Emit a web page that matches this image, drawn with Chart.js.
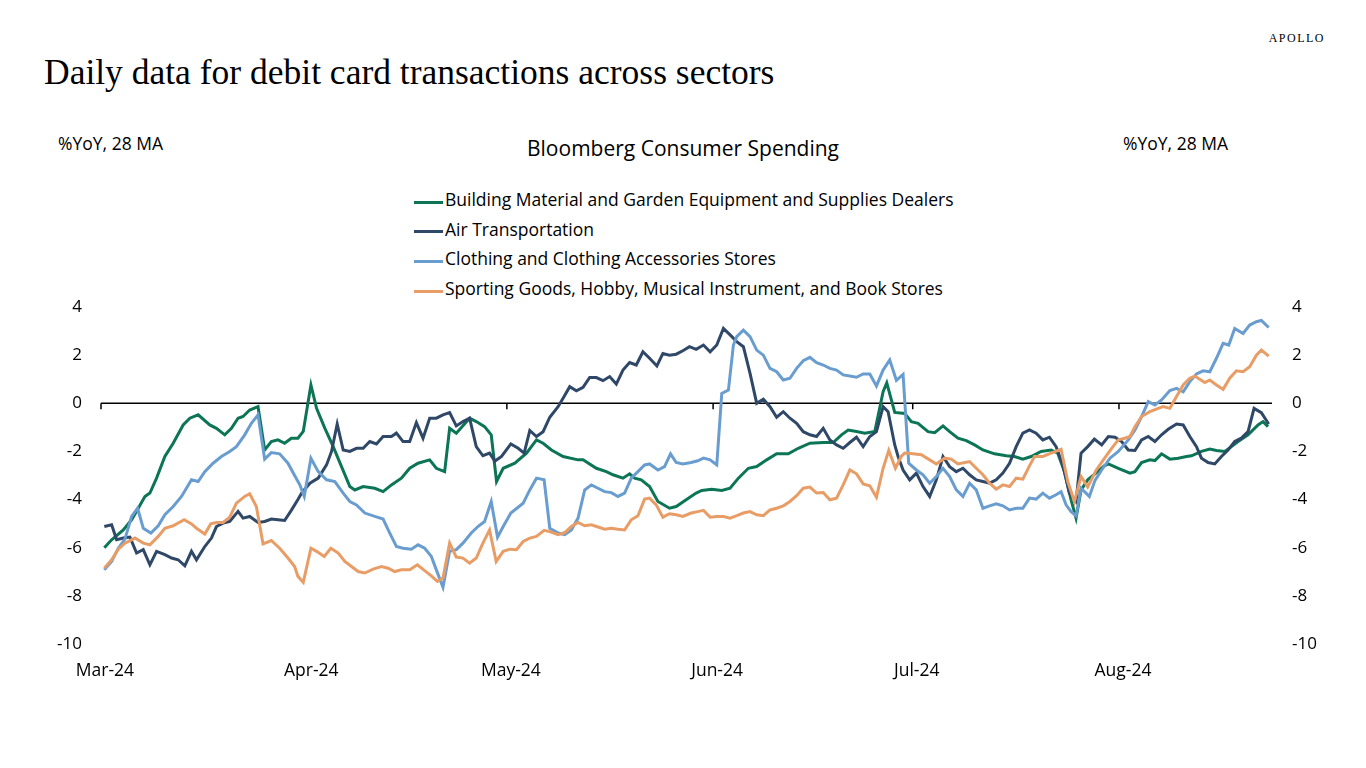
<!DOCTYPE html>
<html>
<head>
<meta charset="utf-8">
<script src="https://cdn.jsdelivr.net/npm/chart.js@4.4.0/dist/chart.umd.min.js"></script>
<style>
  body { margin: 0; width: 1366px; height: 768px; background: #fff; position: relative; overflow: hidden; font-family: "Open Sans", sans-serif; }
  #chart { position: absolute; left: 0; top: 0; }
  .txt { position: absolute; white-space: nowrap; color: #000; }
  .sw { position: absolute; width: 29px; height: 3px; }
</style>
</head>
<body>
<div class="txt" style="right:41px;top:30px;font:12px 'Liberation Serif';line-height:16px;letter-spacing:1.5px">APOLLO</div>
<div class="txt" style="left:44px;top:51px;font:35.5px 'Liberation Serif';line-height:42px">Daily data for debit card transactions across sectors</div>
<div class="txt" style="left:58px;top:131px;font-size:17.5px;line-height:24px">%YoY, 28 MA</div>
<div class="txt" style="left:1123px;top:131px;font-size:17.5px;line-height:24px">%YoY, 28 MA</div>
<div class="txt" style="left:527px;top:134px;font-size:21px;line-height:28px">Bloomberg Consumer Spending</div>
<div id="legend"></div>
<canvas id="chart" width="1366" height="768"></canvas>
<script>
// x = days after 1 Mar 2024, y = %YoY (28 day MA)
const monthLabels = ['Mar-24', 'Apr-24', 'May-24', 'Jun-24', 'Jul-24', 'Aug-24'];
const monthStarts = [0, 31, 61, 92, 122, 153];
const seriesNames = [
  'Building Material and Garden Equipment and Supplies Dealers',
  'Air Transportation',
  'Clothing and Clothing Accessories Stores',
  'Sporting Goods, Hobby, Musical Instrument, and Book Stores'
];
const seriesColors = ['#0b7556', '#2f4868', '#6a9dcf', '#e89d66'];

const building = [[0.5,-6.0],[1.6,-5.67],[3.35,-5.26],[4.6,-4.84],[5.6,-4.36],[6.6,-3.87],[7.35,-3.73],[8.35,-3.11],[9.6,-2.21],[10.85,-1.66],[12.35,-0.9],[13.35,-0.62],[14.6,-0.48],[16.35,-0.9],[17.35,-1.04],[18.6,-1.31],[19.6,-1.04],[20.6,-0.62],[21.35,-0.55],[22.35,-0.28],[23.6,-0.14],[24.6,-1.94],[25.6,-1.59],[26.6,-1.52],[27.6,-1.66],[28.6,-1.45],[29.6,-1.45],[30.4,-1.17],[31.55,0.76],[32.4,-0.21],[33.65,-1.04],[34.9,-1.8],[36.15,-2.63],[37.4,-3.46],[38.15,-3.6],[39.4,-3.46],[41.15,-3.53],[42.4,-3.67],[43.65,-3.39],[45.15,-3.11],[46.4,-2.7],[47.65,-2.49],[49.4,-2.35],[50.4,-2.7],[51.65,-2.84],[52.4,-1.04],[53.4,-1.24],[55.4,-0.62],[56.4,-0.76],[57.65,-0.97],[58.65,-1.31],[59.45,-3.25],[60.45,-2.7],[62.2,-2.49],[63.95,-2.07],[65.45,-1.52],[66.45,-1.66],[67.7,-1.94],[69.45,-2.21],[71.7,-2.35],[72.45,-2.35],[74.45,-2.7],[75.95,-2.84],[76.95,-2.97],[78.45,-3.11],[79.45,-2.93],[80.2,-3.11],[81.2,-3.18],[82.45,-3.46],[83.7,-4.08],[85.45,-4.36],[86.45,-4.29],[87.95,-4.01],[89.45,-3.73],[90.3,-3.62],[91.8,-3.57],[93.3,-3.62],[94.55,-3.53],[95.8,-3.11],[97.3,-2.7],[98.55,-2.63],[100.05,-2.35],[101.55,-2.1],[103.3,-2.1],[104.8,-1.87],[106.55,-1.66],[108.55,-1.63],[110.05,-1.63],[111.3,-1.31],[112.3,-1.11],[113.55,-1.17],[114.8,-1.24],[116.3,-1.17],[117.55,0.48],[118.1,0.85],[119.3,-0.38],[120.8,-0.42],[121.8,-0.76],[122.8,-0.83],[124.3,-1.18],[125.3,-1.22],[126.55,-0.94],[127.55,-1.18],[128.8,-1.45],[130.05,-1.55],[131.3,-1.73],[132.55,-1.94],[134.3,-2.1],[136.05,-2.18],[137.3,-2.21],[138.55,-2.32],[139.8,-2.21],[141.3,-2.0],[142.8,-1.94],[143.8,-2.07],[144.8,-2.83],[145.8,-4.01],[146.55,-4.77],[147.3,-3.6],[148.3,-3.18],[149.8,-2.84],[150.8,-2.6],[151.4,-2.52],[152.9,-2.7],[154.65,-2.9],[155.4,-2.84],[156.4,-2.46],[157.65,-2.35],[158.4,-2.38],[159.4,-2.1],[160.65,-2.32],[161.9,-2.28],[163.15,-2.21],[163.9,-2.18],[165.4,-2.0],[166.65,-1.9],[167.65,-1.96],[168.9,-2.0],[169.9,-1.8],[170.9,-1.59],[172.4,-1.31],[173.9,-0.9],[174.65,-0.76],[175.4,-0.97]];

const airTransport = [[0.5,-5.12],[1.6,-5.05],[2.35,-5.67],[3.35,-5.6],[4.35,-5.56],[5.35,-6.22],[6.35,-6.08],[7.35,-6.71],[8.35,-6.15],[9.6,-6.29],[10.6,-6.43],[11.6,-6.5],[12.6,-6.75],[13.6,-6.15],[14.35,-6.5],[15.6,-5.95],[16.6,-5.6],[17.35,-5.12],[18.35,-4.98],[19.35,-4.91],[20.6,-4.49],[21.35,-4.77],[22.35,-4.7],[23.6,-4.95],[24.6,-4.91],[25.6,-4.81],[26.6,-4.84],[27.6,-4.87],[28.6,-4.45],[29.6,-4.0],[30.15,-3.73],[31.4,-3.32],[32.65,-3.11],[33.9,-2.56],[34.65,-2.0],[35.5,-0.86],[36.4,-1.94],[37.4,-2.0],[38.4,-1.87],[39.4,-1.87],[40.4,-1.59],[41.4,-1.69],[42.4,-1.38],[43.65,-1.38],[44.4,-1.24],[45.4,-1.59],[46.4,-1.59],[47.4,-0.8],[48.4,-1.45],[49.4,-0.62],[50.4,-0.62],[51.4,-0.48],[52.4,-0.39],[53.4,-0.94],[54.4,-0.76],[55.4,-0.62],[56.4,-1.8],[57.4,-2.18],[58.4,-2.07],[59.2,-2.4],[60.2,-2.21],[61.6,-1.69],[62.7,-1.87],[63.6,-2.07],[64.45,-1.13],[65.45,-1.38],[66.45,-1.18],[67.45,-0.58],[68.7,-0.14],[69.45,0.21],[70.45,0.69],[71.45,0.52],[72.45,0.66],[73.45,1.07],[74.45,1.07],[75.45,0.94],[76.45,1.11],[77.45,0.8],[78.45,1.38],[79.45,1.69],[80.45,1.59],[81.45,2.14],[82.45,1.87],[83.55,1.55],[84.45,2.07],[85.45,2.0],[86.45,2.04],[87.45,2.18],[88.45,2.35],[89.45,2.24],[90.55,2.42],[91.55,2.14],[92.55,2.42],[93.55,3.11],[94.55,2.84],[95.55,2.56],[96.55,2.35],[97.55,1.24],[98.55,0.0],[99.55,0.17],[100.55,-0.14],[101.55,-0.58],[102.55,-0.35],[103.55,-0.62],[104.55,-0.83],[105.55,-1.18],[106.55,-1.31],[107.55,-1.38],[108.55,-1.04],[109.55,-1.52],[110.55,-1.73],[111.55,-1.87],[112.55,-1.63],[113.55,-1.41],[114.55,-1.8],[115.55,-1.38],[116.55,-1.18],[117.55,-0.14],[118.3,-0.35],[119.3,-1.73],[119.8,-2.21],[120.55,-2.77],[121.55,-3.18],[122.55,-2.9],[123.55,-3.46],[124.55,-3.87],[125.55,-3.18],[126.55,-2.21],[127.55,-2.63],[128.55,-2.84],[129.55,-2.7],[130.55,-2.97],[131.55,-3.18],[132.55,-3.25],[133.55,-3.32],[134.55,-3.18],[135.55,-2.9],[136.55,-2.49],[137.55,-1.8],[138.55,-1.24],[139.55,-1.11],[140.55,-1.24],[141.55,-1.52],[142.55,-1.41],[143.55,-1.8],[144.55,-2.56],[145.55,-3.73],[146.55,-4.08],[147.3,-2.07],[148.3,-1.8],[149.3,-1.49],[150.4,-1.73],[151.4,-1.38],[152.4,-1.41],[153.4,-1.59],[154.4,-1.94],[155.4,-1.96],[156.4,-1.52],[157.4,-1.38],[158.4,-1.59],[159.4,-1.31],[160.4,-1.08],[161.65,-0.86],[162.65,-0.9],[163.65,-1.38],[164.65,-1.8],[165.4,-2.28],[166.4,-2.46],[167.4,-2.52],[168.4,-2.21],[169.4,-1.94],[170.4,-1.59],[171.4,-1.45],[172.4,-1.18],[173.3,-0.21],[174.4,-0.39],[175.5,-0.86]];

const clothing = [[0.5,-6.92],[1.6,-6.57],[2.6,-6.02],[3.6,-5.64],[4.6,-4.7],[5.5,-4.36],[6.35,-5.19],[7.5,-5.39],[8.6,-5.09],[9.6,-4.63],[10.85,-4.29],[12.1,-3.87],[13.6,-3.18],[14.6,-3.25],[15.6,-2.84],[16.85,-2.49],[18.1,-2.21],[19.35,-2.0],[20.35,-1.8],[21.6,-1.31],[22.6,-0.83],[23.6,-0.48],[24.6,-2.32],[25.6,-2.05],[26.85,-2.1],[28.1,-2.49],[29.1,-3.0],[29.9,-3.4],[30.55,-3.87],[31.55,-2.28],[32.65,-2.84],[33.9,-3.18],[35.15,-3.25],[36.4,-3.73],[37.4,-4.08],[38.4,-4.22],[39.65,-4.56],[41.15,-4.7],[42.4,-4.81],[43.4,-5.39],[44.4,-5.95],[45.4,-6.02],[46.65,-6.06],[47.65,-5.88],[48.65,-6.02],[49.65,-6.36],[50.4,-6.92],[51.4,-7.64],[52.4,-6.15],[53.4,-6.08],[54.4,-5.81],[55.65,-5.39],[56.65,-5.12],[57.65,-4.91],[58.65,-4.08],[59.6,-5.56],[60.45,-5.12],[61.6,-4.56],[63.45,-4.15],[64.45,-3.6],[65.45,-3.11],[66.6,-3.18],[67.45,-5.19],[68.7,-5.39],[69.7,-5.46],[70.7,-5.26],[71.7,-4.77],[72.7,-3.6],[73.7,-3.39],[74.7,-3.53],[75.7,-3.67],[76.7,-3.71],[77.7,-3.87],[78.7,-3.73],[79.7,-3.11],[80.7,-2.84],[81.7,-2.56],[82.45,-2.52],[83.7,-2.77],[84.7,-2.63],[85.6,-2.1],[86.45,-2.46],[87.45,-2.52],[88.7,-2.46],[89.7,-2.39],[90.55,-2.28],[91.55,-2.35],[92.55,-2.56],[93.3,0.41],[94.3,0.55],[95.05,2.42],[95.55,2.77],[96.55,3.04],[97.55,2.77],[98.55,2.21],[99.55,2.0],[100.55,1.45],[101.55,1.31],[102.55,0.97],[103.55,1.04],[104.55,1.45],[105.55,1.77],[106.55,1.91],[107.55,1.69],[108.55,1.59],[109.55,1.45],[110.55,1.38],[111.55,1.18],[112.55,1.13],[113.55,1.08],[114.55,1.22],[115.55,1.22],[116.55,0.72],[117.55,1.38],[118.55,1.8],[119.55,0.95],[120.55,1.2],[121.05,-0.97],[121.4,-2.49],[122.55,-2.77],[123.55,-2.97],[124.55,-3.32],[125.55,-3.04],[126.55,-2.7],[127.55,-3.04],[128.55,-3.6],[129.55,-3.87],[130.55,-3.32],[131.55,-3.6],[132.55,-4.36],[133.55,-4.26],[134.55,-4.18],[135.55,-4.26],[136.55,-4.43],[137.55,-4.36],[138.55,-4.36],[139.55,-3.94],[140.55,-3.98],[141.55,-3.73],[142.55,-3.94],[143.55,-3.8],[144.3,-3.67],[145.05,-4.22],[145.8,-4.5],[146.55,-4.67],[147.3,-3.53],[148.55,-3.87],[149.4,-3.2],[150.4,-2.77],[151.65,-2.28],[152.9,-2.0],[154.4,-1.52],[155.4,-1.11],[156.4,-0.55],[157.4,0.07],[158.4,-0.07],[159.4,0.14],[160.65,0.53],[161.65,0.62],[162.65,0.48],[163.65,0.9],[164.65,1.22],[165.65,1.35],[166.65,1.31],[167.65,1.87],[168.65,2.49],[169.5,2.42],[170.4,3.11],[171.65,2.9],[172.65,3.25],[173.65,3.39],[174.4,3.44],[175.5,3.15]];

const sporting = [[0.5,-6.85],[1.6,-6.5],[2.6,-6.06],[3.6,-5.81],[5.1,-5.6],[6.35,-5.81],[7.35,-5.88],[8.6,-5.53],[9.6,-5.19],[10.85,-5.09],[12.5,-4.84],[13.6,-5.01],[14.35,-5.19],[15.6,-5.43],[16.5,-5.01],[17.35,-4.95],[18.35,-4.95],[19.35,-4.73],[20.35,-4.15],[21.6,-3.87],[22.35,-3.76],[23.35,-4.29],[24.35,-5.84],[25.6,-5.7],[26.85,-6.02],[28.1,-6.43],[29.1,-6.78],[29.6,-7.19],[30.4,-7.44],[31.55,-6.02],[32.4,-6.15],[33.55,-6.36],[34.55,-6.02],[35.65,-6.22],[36.65,-6.57],[37.65,-6.78],[38.65,-6.99],[39.65,-7.05],[40.9,-6.89],[42.15,-6.78],[43.15,-6.85],[44.15,-6.99],[45.15,-6.92],[46.4,-6.92],[47.55,-6.71],[48.65,-6.95],[49.65,-7.17],[50.55,-7.4],[51.4,-7.26],[52.4,-5.81],[53.4,-6.39],[54.4,-6.43],[55.4,-6.64],[56.4,-6.43],[57.4,-5.81],[58.4,-5.26],[59.4,-6.57],[60.45,-6.15],[61.45,-6.06],[62.45,-6.08],[63.45,-5.74],[64.45,-5.6],[65.45,-5.53],[66.6,-5.28],[67.45,-5.33],[68.7,-5.46],[69.7,-5.37],[70.7,-5.12],[71.7,-4.95],[72.7,-5.09],[73.7,-5.05],[74.7,-5.14],[75.7,-5.23],[76.7,-5.19],[77.7,-5.23],[78.7,-5.26],[79.7,-4.84],[80.7,-4.67],[81.7,-3.98],[82.45,-3.94],[83.45,-4.22],[84.45,-4.73],[85.45,-4.59],[86.45,-4.63],[87.45,-4.7],[88.7,-4.56],[89.7,-4.5],[90.55,-4.45],[91.55,-4.73],[92.55,-4.7],[93.55,-4.7],[94.55,-4.77],[95.55,-4.67],[96.55,-4.56],[97.55,-4.5],[98.55,-4.63],[99.55,-4.67],[100.55,-4.43],[101.55,-4.36],[102.55,-4.26],[103.55,-4.08],[104.55,-3.84],[105.55,-3.53],[106.55,-3.48],[107.55,-3.73],[108.55,-3.71],[109.55,-4.01],[110.55,-3.94],[111.55,-3.39],[112.55,-2.77],[113.55,-2.93],[114.55,-3.35],[115.55,-3.43],[116.55,-3.9],[117.55,-2.7],[118.4,-1.96],[119.4,-2.7],[120.3,-2.2],[120.8,-2.07],[122.05,-2.1],[123.3,-2.14],[124.55,-2.35],[125.55,-2.52],[126.8,-2.28],[127.8,-2.32],[128.8,-2.52],[130.55,-2.42],[131.55,-2.7],[132.55,-2.97],[133.55,-3.32],[134.55,-3.57],[135.55,-3.39],[136.55,-3.46],[137.55,-3.11],[138.55,-3.15],[139.55,-2.6],[140.3,-2.21],[141.55,-2.21],[142.8,-2.07],[144.3,-1.91],[145.3,-3.25],[146.3,-4.08],[147.3,-3.04],[148.3,-3.48],[149.55,-2.79],[150.65,-2.35],[151.9,-1.87],[152.9,-1.52],[153.9,-1.45],[154.65,-1.38],[155.4,-0.97],[156.4,-0.55],[157.65,-0.35],[158.9,-0.21],[159.65,-0.14],[160.65,-0.21],[161.65,0.28],[162.65,0.76],[163.65,1.04],[164.4,1.13],[164.9,1.04],[165.9,0.86],[166.65,0.97],[167.65,0.76],[168.65,0.58],[169.65,1.04],[170.65,1.35],[171.65,1.31],[172.65,1.52],[173.65,2.0],[174.4,2.21],[175.5,1.96]];

const allSeries = [building, airTransport, clothing, sporting];

// legend (stacked, left aligned, centred over the plot)
const legend = document.getElementById('legend');
seriesNames.forEach(function (name, i) {
  const top = 187 + i * 29.7;
  const sw = document.createElement('div');
  sw.className = 'sw';
  sw.style.left = '414px';
  sw.style.top = (top + 13.5) + 'px';
  sw.style.background = seriesColors[i];
  legend.appendChild(sw);
  const t = document.createElement('div');
  t.className = 'txt';
  t.style.left = '445px';
  t.style.top = top + 'px';
  t.style.fontSize = '17.5px';
  t.style.lineHeight = '24px';
  t.textContent = name;
  legend.appendChild(t);
});

// zero line with month tick marks
const zeroAxis = {
  id: 'zeroAxis',
  beforeDatasetsDraw(chart) {
    const ctx = chart.ctx;
    const area = chart.chartArea;
    const x = chart.scales.x;
    const y0 = chart.scales.y.getPixelForValue(0);
    ctx.save();
    ctx.strokeStyle = '#000';
    ctx.lineWidth = 1.5;
    ctx.beginPath();
    ctx.moveTo(area.left, y0);
    ctx.lineTo(area.right, y0);
    monthStarts.forEach(function (d) {
      const px = x.getPixelForValue(d);
      ctx.moveTo(px, y0);
      ctx.lineTo(px, y0 + 6);
    });
    ctx.stroke();
    ctx.restore();
  }
};

Chart.defaults.font.family = "'Open Sans', sans-serif";
Chart.defaults.color = '#000';

const ctx = document.getElementById('chart').getContext('2d');
new Chart(ctx, {
  type: 'line',
  data: {
    datasets: allSeries.map(function (s, i) {
      return {
        label: seriesNames[i],
        data: s.map(function (p) { return { x: p[0], y: p[1] }; }),
        borderColor: seriesColors[i],
        borderWidth: 3,
        pointRadius: 0,
        tension: 0,
        fill: false,
        order: 4 - i
      };
    })
  },
  options: {
    responsive: false,
    animation: false,
    layout: { padding: { top: 307, left: 0, right: 0, bottom: 0 } },
    plugins: { legend: { display: false }, tooltip: { enabled: false } },
    scales: {
      x: {
        type: 'linear',
        min: 0,
        max: 176,
        grid: { display: false, drawTicks: false },
        border: { display: false },
        afterBuildTicks: function (scale) {
          scale.ticks = monthStarts.map(function (v) { return { value: v }; });
        },
        afterFit: function (scale) { scale.height = 124; },
        ticks: {
          font: { size: 17.5 },
          padding: 17,
          labelOffset: 4,
          maxRotation: 0,
          autoSkip: false,
          callback: function (value) { return monthLabels[monthStarts.indexOf(value)]; }
        }
      },
      y: {
        position: 'left',
        min: -10,
        max: 4,
        grid: { display: false, drawTicks: false },
        border: { display: false },
        afterFit: function (scale) { scale.width = 101; },
        ticks: { stepSize: 2, font: { size: 17 }, padding: 19 }
      },
      y2: {
        position: 'right',
        min: -10,
        max: 4,
        grid: { display: false, drawTicks: false },
        border: { display: false },
        afterFit: function (scale) { scale.width = 94; },
        ticks: { stepSize: 2, font: { size: 17 }, padding: 20 }
      }
    }
  },
  plugins: [zeroAxis]
});
</script>
</body>
</html>
